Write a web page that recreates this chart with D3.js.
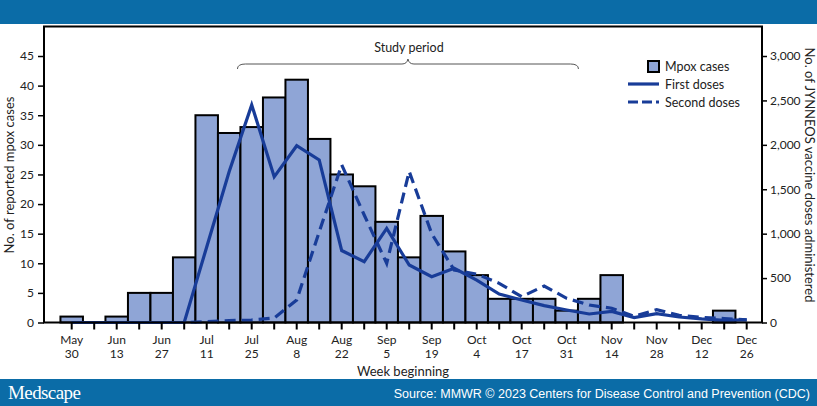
<!DOCTYPE html>
<html>
<head>
<meta charset="utf-8">
<script src="https://cdn.jsdelivr.net/npm/d3@7"></script>
<style>
  html, body { margin: 0; padding: 0; background: #fff; }
  svg { display: block; }
</style>
</head>
<body>
<svg id="chart" width="817" height="406"></svg>
<script>
// ---- Data ----
const weeks = ["May 30","Jun 6","Jun 13","Jun 20","Jun 27","Jul 4","Jul 11","Jul 18","Jul 25","Aug 1",
  "Aug 8","Aug 15","Aug 22","Aug 29","Sep 5","Sep 12","Sep 19","Sep 26","Oct 3","Oct 10",
  "Oct 17","Oct 24","Oct 31","Nov 7","Nov 14","Nov 21","Nov 28","Dec 5","Dec 12","Dec 19","Dec 26"];
const tickLabels = ["May 30","Jun 13","Jun 27","Jul 11","Jul 25","Aug 8","Aug 22","Sep 5","Sep 19",
  "Oct 4","Oct 17","Oct 31","Nov 14","Nov 28","Dec 12","Dec 26"];
const mpoxCases = [1,0,1,5,5,11,35,32,33,38,41,31,25,23,17,11,18,12,8,4,4,4,2,4,8,0,0,0,0,2,0];
const firstDoses = [0,0,0,0,0,0,850,1700,2450,1640,1990,1830,810,685,1060,647,515,610,478,321,
  253,190,141,96,125,55,100,62,40,25,30];
const secondDoses = [0,0,0,0,0,0,10,20,30,50,253,1020,1775,1210,666,1700,1000,590,545,441,
  291,411,272,197,160,70,145,80,58,45,30];
const leftTicks = [0,5,10,15,20,25,30,35,40,45];
const rightTicks = [0,500,1000,1500,2000,2500,3000];
const studyStart = "Jul 25", studyEnd = "Oct 31";

// ---- Layout ----
const svg = d3.select("#chart");
const W = 817, H = 406;
const plot = { left: 44, right: 762, top: 26.4, bottom: 322.5 };
const barFill = "#8fa5d6", lineColor = "#183c98", bandColor = "#0b6ca7";
const font = "Lato, 'Noto Sans', sans-serif";

// header / footer bands
svg.append("rect").attr("x",0).attr("y",0).attr("width",W).attr("height",24).attr("fill",bandColor);
svg.append("rect").attr("x",0).attr("y",379).attr("width",W).attr("height",H-379).attr("fill",bandColor);

const x = d3.scaleBand().domain(weeks).range([60.45, 60.45 + 22.5*weeks.length]).padding(0);
const yL = d3.scaleLinear().domain([0,50]).range([plot.bottom, plot.top]);
const yR = d3.scaleLinear().domain([0,3000*50/45]).range([plot.bottom, plot.top]);
const cx = w => x(w) + x.bandwidth()/2;

// bars
svg.append("g").selectAll("rect").data(weeks.map((w,i)=>({w, v:mpoxCases[i]})).filter(d=>d.v>0))
  .join("rect")
  .attr("x", d=>x(d.w)).attr("width", x.bandwidth())
  .attr("y", d=>yL(d.v)).attr("height", d=>yL(0)-yL(d.v))
  .attr("fill", barFill).attr("stroke","#000").attr("stroke-width",2);

// lines
const line = d3.line().x((d,i)=>cx(weeks[i])).y(d=>yR(d));
svg.append("path").datum(secondDoses).attr("d", line).attr("fill","none")
  .attr("stroke", lineColor).attr("stroke-width",3.2).attr("stroke-dasharray","11,6");
svg.append("path").datum(firstDoses).attr("d", line).attr("fill","none")
  .attr("stroke", lineColor).attr("stroke-width",3.2).attr("stroke-linejoin","miter");

// frame
svg.append("path").attr("d",`M${plot.left},${plot.bottom}V${plot.top}H${plot.right}V${plot.bottom}Z`)
  .attr("fill","none").attr("stroke","#000").attr("stroke-width",2);

// left axis
const gL = svg.append("g").attr("transform",`translate(${plot.left},0)`)
  .call(d3.axisLeft(yL).tickValues(leftTicks).tickSize(6).tickPadding(4));
gL.select(".domain").remove();
gL.selectAll(".tick line").attr("stroke","#000").attr("stroke-width",1.5);
gL.selectAll(".tick text").attr("font-family",font).attr("font-size",12).attr("fill","#222");

// right axis
const gR = svg.append("g").attr("transform",`translate(${plot.right},0)`)
  .call(d3.axisRight(yR).tickValues(rightTicks).tickSize(5).tickPadding(3).tickFormat(d3.format(",")));
gR.select(".domain").remove();
gR.selectAll(".tick line").attr("stroke","#000").attr("stroke-width",1.5);
gR.selectAll(".tick text").attr("font-family",font).attr("font-size",12).attr("fill","#222");

// bottom axis
const gB = svg.append("g").attr("transform",`translate(0,${plot.bottom})`)
  .call(d3.axisBottom(x).tickSize(7).tickFormat(""));
gB.select(".domain").remove();
gB.selectAll(".tick line").attr("stroke","#000").attr("stroke-width",2);
const tl = svg.append("g");
tickLabels.forEach((t,k)=>{
  const parts = t.split(" ");
  const xx = cx(weeks[k*2]);
  const tx = tl.append("text").attr("x",xx).attr("text-anchor","middle")
    .attr("font-family",font).attr("font-size",12).attr("fill","#222");
  tx.append("tspan").attr("x",xx).attr("y",344).text(parts[0]);
  tx.append("tspan").attr("x",xx).attr("y",358).text(parts[1]);
});

// axis titles
svg.append("text").attr("x",403).attr("y",376).attr("text-anchor","middle")
  .attr("font-family",font).attr("font-size",13).attr("fill","#222").text("Week beginning");
svg.append("text").attr("transform","translate(14,175) rotate(-90)").attr("text-anchor","middle")
  .attr("font-family",font).attr("font-size",13).attr("fill","#222").text("No. of reported mpox cases");
svg.append("text").attr("transform","translate(805,175) rotate(90)").attr("text-anchor","middle")
  .attr("font-family",font).attr("font-size",13).attr("fill","#222").text("No. of JYNNEOS vaccine doses administered");

// study period brace
const bx0 = x(studyStart) - 3, bx1 = x(studyEnd) + 23, bm = (bx0+bx1)/2, by = 64;
svg.append("path").attr("d",
  `M${bx0},${by+5} Q${bx0},${by} ${bx0+8},${by} L${bm-6},${by} Q${bm-1},${by} ${bm},${by-5} Q${bm+1},${by} ${bm+6},${by} L${bx1-8},${by} Q${bx1},${by} ${bx1},${by+5}`)
  .attr("fill","none").attr("stroke","#555").attr("stroke-width",1);
svg.append("text").attr("x",bm+1).attr("y",52).attr("text-anchor","middle")
  .attr("font-family",font).attr("font-size",12.5).attr("fill","#222").text("Study period");

// legend
const lg = svg.append("g").attr("font-family",font).attr("font-size",12.5).attr("fill","#222");
lg.append("rect").attr("x",648).attr("y",61).attr("width",11).attr("height",11)
  .attr("fill",barFill).attr("stroke","#000").attr("stroke-width",2);
lg.append("text").attr("x",665).attr("y",70.5).text("Mpox cases");
lg.append("line").attr("x1",628).attr("x2",659).attr("y1",84).attr("y2",84)
  .attr("stroke",lineColor).attr("stroke-width",3.2);
lg.append("text").attr("x",665).attr("y",88.5).text("First doses");
lg.append("line").attr("x1",628).attr("x2",659).attr("y1",102).attr("y2",102)
  .attr("stroke",lineColor).attr("stroke-width",3.2).attr("stroke-dasharray","10,4");
lg.append("text").attr("x",665).attr("y",106.5).text("Second doses");

// footer text
svg.append("text").attr("x",8).attr("y",399).attr("font-family","'Liberation Serif', 'DejaVu Serif', serif")
  .attr("font-size",19).attr("letter-spacing",-0.6).attr("fill","#fff").text("Medscape");
svg.append("text").attr("x",810).attr("y",397.5).attr("text-anchor","end")
  .attr("font-family","'Liberation Sans', Arial, sans-serif").attr("font-size",12.5).attr("fill","#fff")
  .text("Source: MMWR © 2023 Centers for Disease Control and Prevention (CDC)");
</script>
</body>
</html>
